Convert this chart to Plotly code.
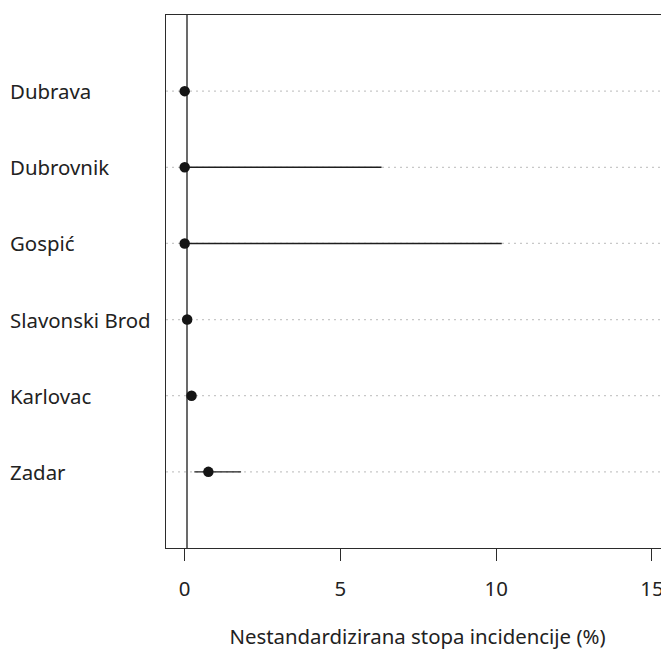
import plotly.graph_objects as go

# ---- data ----
cities = ["Dubrava", "Dubrovnik", "Gospić", "Slavonski Brod", "Karlovac", "Zadar"]
rate = [0.0, 0.0, 0.0, 0.08, 0.22, 0.76]
ci_low = [0.0, 0.0, 0.0, 0.02, 0.12, 0.31]
ci_high = [0.0, 6.32, 10.18, 0.15, 0.34, 1.81]
ref_value = 0.074
x_ticks = [0, 5, 10, 15]
x_tick_text = ["0", "5", "10", "15"]
x_title = "Nestandardizirana stopa incidencije (%)"

# ---- layout constants (page body has an 8px margin) ----
W, H = 661, 642
ML, MR, MT, MB = 158, 0, 7, 102
x_lo = -0.6
px_per_unit = 31.15
x_hi = x_lo + (W - ML - MR) / px_per_unit
FONT = "Noto Sans"
FS = 20.4
TXT = "#222222"
LINE = "#2b2b2b"

n = len(cities)
ypos = [n - i for i in range(n)]

fig = go.Figure()

# dotted guide lines
gx, gy = [], []
for y in ypos:
    gx += [x_lo, x_hi, None]
    gy += [y, y, None]
fig.add_trace(go.Scatter(x=gx, y=gy, mode="lines",
                         line=dict(color="#c8c8c8", width=1.2, dash="2px,4px"),
                         hoverinfo="skip", showlegend=False))

# reference vertical line
fig.add_trace(go.Scatter(x=[ref_value, ref_value], y=[0, n + 1], mode="lines",
                         line=dict(color=LINE, width=1.4),
                         hoverinfo="skip", showlegend=False))

# confidence intervals
wx, wy = [], []
for lo, hi, y in zip(ci_low, ci_high, ypos):
    wx += [lo, hi, None]
    wy += [y, y, None]
fig.add_trace(go.Scatter(x=wx, y=wy, mode="lines",
                         line=dict(color="#1e1e1e", width=1.4),
                         hoverinfo="skip", showlegend=False))

# point estimates
fig.add_trace(go.Scatter(x=rate, y=ypos, mode="markers",
                         marker=dict(color="#151515", size=10.5, line=dict(width=0)),
                         text=cities, showlegend=False))

# row labels, left aligned in the margin
for name, y in zip(cities, ypos):
    fig.add_annotation(x=(0 - ML) / (W - ML - MR), xref="paper", xanchor="left",
                       y=y, yref="y", yanchor="middle", text=name, showarrow=False,
                       font=dict(family=FONT, size=FS, color=TXT))

fig.update_layout(
    width=W, height=H,
    margin=dict(l=ML, r=MR, t=MT, b=MB, pad=0),
    plot_bgcolor="white", paper_bgcolor="white",
    font=dict(family=FONT, size=FS, color=TXT),
    xaxis=dict(range=[x_lo, x_hi], tickvals=x_ticks, ticktext=x_tick_text,
               showgrid=False, zeroline=False, showline=True, mirror=True,
               linecolor=LINE, linewidth=1.4, ticks="outside", ticklen=12,
               tickwidth=1.4, tickcolor=LINE, ticklabelstandoff=10,
               tickfont=dict(family=FONT, size=FS, color=TXT),
               title=dict(text=x_title, font=dict(family=FONT, size=FS, color=TXT),
                          standoff=30)),
    yaxis=dict(range=[0, n + 1], showgrid=False, zeroline=False, showline=True,
               mirror=False, linecolor=LINE, linewidth=1.4, showticklabels=False,
               ticks=""),
)

fig.write_html("out.html")
